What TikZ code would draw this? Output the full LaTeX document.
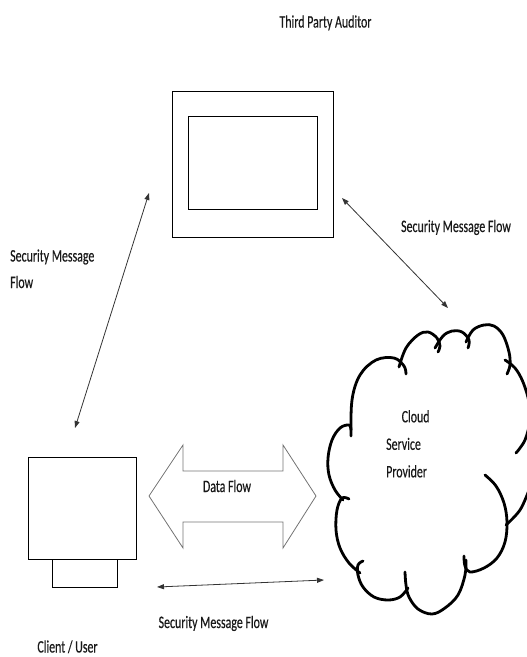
\documentclass[tikz,border=0pt]{standalone}
\usepackage{fontspec}
\setmainfont{Carlito}
\newfontfamily\lbl{Carlito}[FakeStretch=0.68,FakeBold=0.35]
\usetikzlibrary{arrows.meta}
\begin{document}
\begin{tikzpicture}[x=1pt,y=-1pt,
  txt/.style={font=\lbl\fontsize{17.5}{26.5}\selectfont, inner sep=0pt, text=black!90},
  box/.style={draw=black, line width=0.9pt, inner sep=0pt, outer sep=0pt},
  msg/.style={draw=black!80, line width=0.8pt, {Triangle[length=7pt,width=5pt]}-{Triangle[length=7pt,width=5pt]}},
  cloudline/.style={line width=2.8pt, line cap=round, line join=round},
  blockarrow/.style={draw=black!55, line width=0.8pt}
]
\useasboundingbox (0,0) rectangle (527,657);

% Third party auditor (monitor)
\node[box, minimum width=161pt, minimum height=146pt] (tpa) at (252.5,164) {};
\node[box, minimum width=129pt, minimum height=93pt] (tpain) at (252.5,162.5) {};
\node[txt, anchor=base] (tpalbl) at (325.5,27.5) {Third Party Auditor};

% Client / user
\node[box, minimum width=108pt, minimum height=102pt] (client) at (82,508) {};
\node[box, minimum width=65pt, minimum height=28pt, anchor=north] (stand) at (client.south -| 84.5,0) {};
\node[txt, anchor=base] (clientlbl) at (67.5,652.5) {Client / User};

% Cloud
\draw[cloudline] plot[smooth, tension=0.6] coordinates {(351,436) (352,400) (360,375) (376,360) (394,358) (404,366) (406,374)};
\draw[cloudline] plot[smooth, tension=0.6] coordinates {(399,367) (406,348) (418,335) (428,332) (437,338) (440,346) (438,352)};
\draw[cloudline] plot[smooth, tension=0.6] coordinates {(435,348) (443,336) (452,331) (462,332) (469,340) (468,348)};
\draw[cloudline] plot[smooth, tension=0.6] coordinates {(466,342) (473,330) (484,325) (494,326) (503,335) (509,352) (510,365) (507,374)};
\draw[cloudline] plot[smooth, tension=0.6] coordinates {(505,360) (515,368) (523,382) (529,402) (530,420) (525,440) (516,453)};
\draw[cloudline] plot[smooth, tension=0.6] coordinates {(529,490) (520,510) (506,525)};
\draw[cloudline] plot[smooth, tension=0.6] coordinates {(485,475) (496,486) (504,503) (507,522) (505,542) (497,558) (484,568) (470,572) (465,566) (464,556)};
\draw[cloudline] plot[smooth, tension=0.6] coordinates {(466,560) (465,575) (458,595) (445,608) (432,614) (418,609) (409,597) (406,585) (405,572)};
\draw[cloudline] plot[smooth, tension=0.6] coordinates {(408,588) (400,597) (388,600) (374,597) (363,587) (358,575) (358,565) (363,561)};
\draw[cloudline] plot[smooth, tension=0.6] coordinates {(360,573) (349,563) (340,548) (336,530) (337,510) (342,498) (349,499)};
\draw[cloudline] plot[smooth, tension=0.6] coordinates {(343,500) (335,490) (329,475) (328,458) (332,440) (340,428) (349,425) (351,430)};
\node[txt, anchor=north west, align=left, font=\lbl\fontsize{17.5}{27.5}\selectfont] (cloudlbl) at (386,410) {\hspace{15.5pt}Cloud\\Service\\Provider};

% Data flow block arrow
\draw[blockarrow] (149,496) -- (183,445) -- (183,471) -- (283,471) -- (283,445) -- (316,496)
  -- (283,548) -- (283,522) -- (183,522) -- (183,548) -- cycle;
\node[txt, anchor=base] (datalbl) at (227,492) {Data Flow};

% Security message flows
\coordinate (tpaA) at (149,193);
\coordinate (cliA) at (75,428);
\coordinate (tpaB) at (342,198);
\coordinate (cldB) at (448,308);
\coordinate (cliC) at (157,587);
\coordinate (cldC) at (324,580);
\draw[msg] (tpaA) -- (cliA);
\draw[msg] (tpaB) -- (cldB);
\draw[msg] (cliC) -- (cldC);

\node[txt, anchor=base west, align=left] (msgA) at (10,288) {Security Message\\Flow};
\node[txt, anchor=base] (msgB) at (456,232) {Security Message Flow};
\node[txt, anchor=base] (msgC) at (213.5,628) {Security Message Flow};
\end{tikzpicture}
\end{document}
